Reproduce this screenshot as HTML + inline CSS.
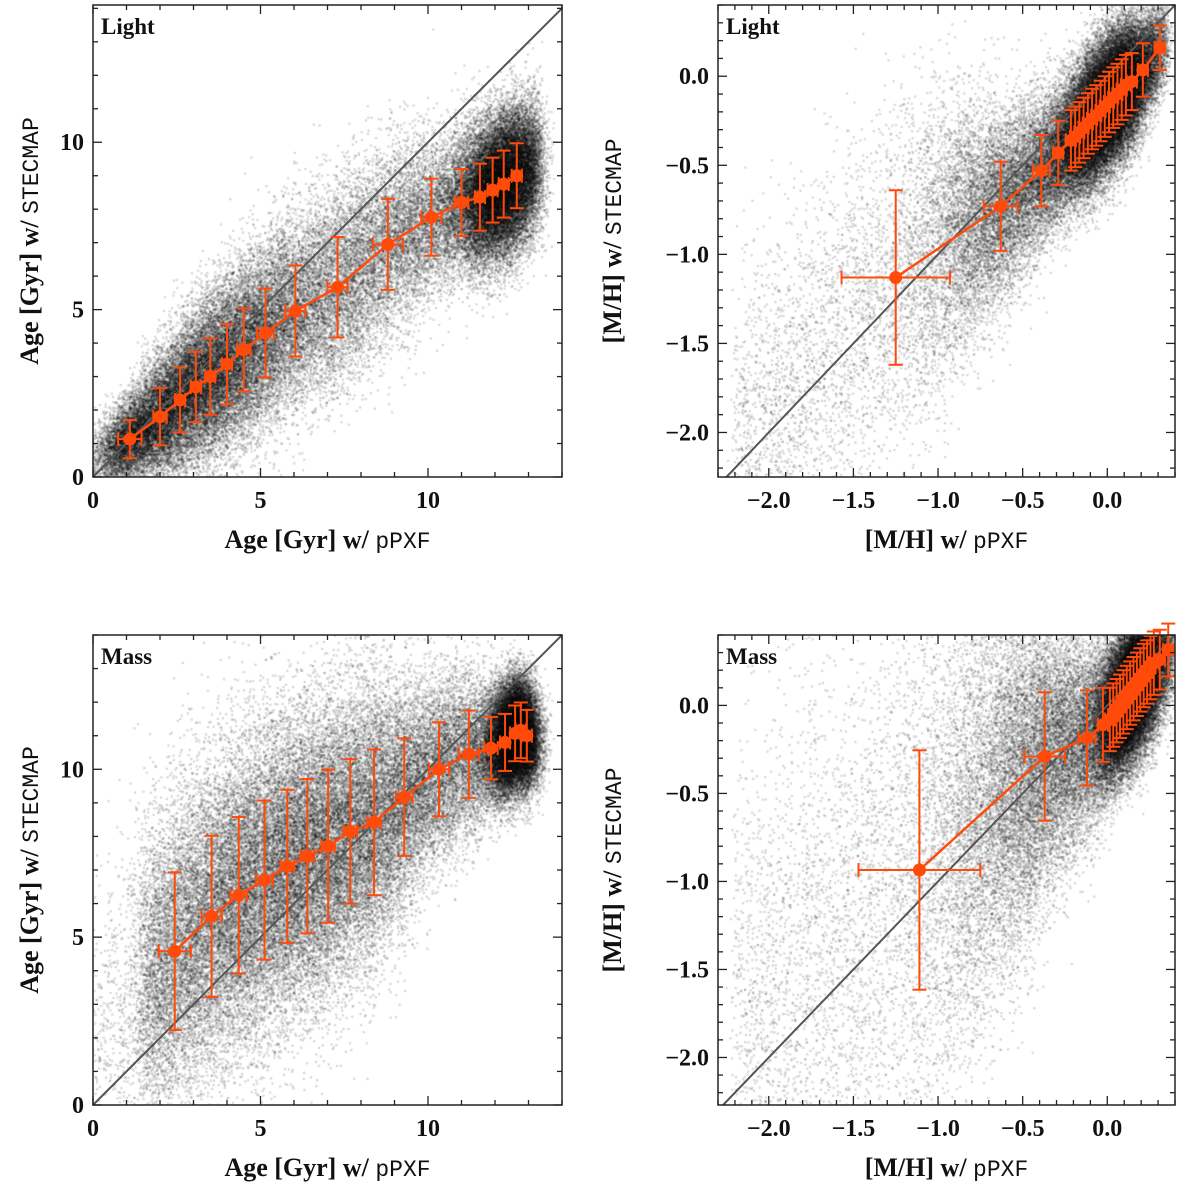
<!DOCTYPE html>
<html><head><meta charset="utf-8">
<style>
body{margin:0;background:#fff;}
#wrap{position:relative;width:1200px;height:1193px;overflow:hidden;}
canvas,svg{position:absolute;left:0;top:0;}
text{font-family:"Liberation Serif",serif;font-weight:bold;fill:#111;}
</style></head>
<body>
<div id="wrap">
<canvas id="cv" width="1200" height="1193"></canvas>
<svg id="sv" width="1200" height="1193" xmlns="http://www.w3.org/2000/svg"></svg>
</div>
<script>
// ---- Data: binned medians (x, y) and errors ----
const ageLightX = [1.1,2.0,2.6,3.07,3.5,4.0,4.5,5.15,6.04,7.3,8.8,10.1,11.0,11.55,11.93,12.26,12.65];
const ageLightY = [1.13,1.8,2.3,2.69,3.0,3.37,3.8,4.3,4.96,5.67,6.95,7.76,8.2,8.36,8.57,8.75,9.0];
const ageLightYErr = [0.57,0.85,0.97,1.05,1.14,1.2,1.24,1.33,1.36,1.5,1.36,1.15,1.0,1.0,0.97,1.0,0.97];
const ageLightXErr = [0.35,0.2,0.15,0.15,0.15,0.15,0.2,0.25,0.3,0.3,0.45,0.3,0.2,0.15,0.15,0.15,0.15];

const mhLightX = [-1.25,-0.63,-0.39,-0.29,-0.215,-0.19,-0.165,-0.14,-0.115,-0.09,-0.065,-0.04,-0.015,0.01,0.035,0.06,0.085,0.11,0.145,0.21,0.31];
const mhLightY = [-1.13,-0.73,-0.53,-0.43,-0.36,-0.34,-0.315,-0.29,-0.265,-0.24,-0.22,-0.195,-0.17,-0.145,-0.12,-0.1,-0.075,-0.05,-0.03,0.035,0.16];
const mhLightYErr = [0.49,0.25,0.2,0.18,0.17,0.17,0.17,0.17,0.17,0.17,0.17,0.17,0.17,0.17,0.17,0.17,0.17,0.17,0.16,0.15,0.125];
const mhLightXErr = [0.32,0.1,0.05,0.03,0.03,0.03,0.03,0.03,0.03,0.03,0.03,0.03,0.03,0.03,0.03,0.03,0.03,0.03,0.03,0.03,0.03];

const ageMassX = [2.44,3.54,4.35,5.12,5.8,6.4,7.02,7.68,8.39,9.29,10.33,11.22,11.88,12.3,12.6,12.77,12.95];
const ageMassY = [4.58,5.62,6.25,6.7,7.11,7.41,7.71,8.15,8.42,9.17,10.0,10.45,10.63,10.8,11.07,11.16,11.0];
const ageMassYErr = [2.35,2.4,2.33,2.37,2.28,2.3,2.28,2.15,2.17,1.75,1.4,1.3,0.93,0.85,0.83,0.83,0.77];
const ageMassXErr = [0.48,0.3,0.25,0.25,0.2,0.2,0.2,0.2,0.2,0.25,0.3,0.3,0.2,0.15,0.15,0.15,0.15];

const mhMassX = [-1.11,-0.37,-0.12,-0.026,0.015,0.035,0.055,0.075,0.095,0.115,0.135,0.155,0.175,0.195,0.215,0.235,0.255,0.275,0.31,0.36];
const mhMassY = [-0.935,-0.29,-0.185,-0.11,-0.08,-0.055,-0.03,-0.005,0.02,0.045,0.07,0.095,0.12,0.145,0.17,0.19,0.215,0.24,0.26,0.315];
const mhMassYErr = [0.68,0.365,0.27,0.21,0.18,0.18,0.18,0.18,0.18,0.18,0.18,0.18,0.18,0.18,0.18,0.18,0.18,0.18,0.17,0.15];
const mhMassXErr = [0.36,0.12,0.05,0.03,0.03,0.03,0.03,0.03,0.03,0.03,0.03,0.03,0.03,0.03,0.03,0.03,0.03,0.03,0.03,0.03];

const ageTicks = [0,5,10];
const mhXTicks = [-2.0,-1.5,-1.0,-0.5,0.0];
const mhYTicks = [-2.0,-1.5,-1.0,-0.5,0.0];

const panels = [
 {name:'light-age',label:'Light',box:[93,5,562,477],xr:[0,14],yr:[0,14.1],xt:ageTicks,yt:ageTicks,xm:1,ym:1,dec:0,
  X:ageLightX,Y:ageLightY,XE:ageLightXErr,YE:ageLightYErr,xl:'Age [Gyr] w/ ',yl:'Age [Gyr] w/ ',mono1:'pPXF',mono2:'STECMAP',type:'age'},
 {name:'light-mh',label:'Light',box:[718,5,1175,477],xr:[-2.3,0.4],yr:[-2.25,0.4],xt:mhXTicks,yt:mhYTicks,xm:0.1,ym:0.1,dec:1,
  X:mhLightX,Y:mhLightY,XE:mhLightXErr,YE:mhLightYErr,xl:'[M/H] w/ ',yl:'[M/H] w/ ',mono1:'pPXF',mono2:'STECMAP',type:'mhl'},
 {name:'mass-age',label:'Mass',box:[93,635,562,1105],xr:[0,14],yr:[0,14],xt:ageTicks,yt:ageTicks,xm:1,ym:1,dec:0,
  X:ageMassX,Y:ageMassY,XE:ageMassXErr,YE:ageMassYErr,xl:'Age [Gyr] w/ ',yl:'Age [Gyr] w/ ',mono1:'pPXF',mono2:'STECMAP',type:'agem'},
 {name:'mass-mh',label:'Mass',box:[718,635,1175,1105],xr:[-2.3,0.4],yr:[-2.27,0.4],xt:mhXTicks,yt:mhYTicks,xm:0.1,ym:0.1,dec:1,
  X:mhMassX,Y:mhMassY,XE:mhMassXErr,YE:mhMassYErr,xl:'[M/H] w/ ',yl:'[M/H] w/ ',mono1:'pPXF',mono2:'STECMAP',type:'mhm'}
];

const NS='http://www.w3.org/2000/svg';
const sv=document.getElementById('sv');
const ctx=document.getElementById('cv').getContext('2d');
function mk(tag,attrs,parent){const e=document.createElementNS(NS,tag);for(const k in attrs)e.setAttribute(k,attrs[k]);(parent||sv).appendChild(e);return e;}

// seeded PRNG for background cloud texture
let seed=12345;
function rnd(){seed|=0;seed=seed+0x6D2B79F5|0;let t=Math.imul(seed^seed>>>15,1|seed);t=t+Math.imul(t^t>>>7,61|t)^t;return((t^t>>>14)>>>0)/4294967296;}
function gauss(){let u=rnd()||1e-9,v=rnd();return Math.sqrt(-2*Math.log(u))*Math.cos(2*Math.PI*v);}
function interp(X,Y,x){
  if(x<=X[0]){const s=(Y[1]-Y[0])/(X[1]-X[0]);return Y[0]+(x-X[0])*s;}
  for(let i=1;i<X.length;i++){if(x<=X[i]){const t=(x-X[i-1])/(X[i]-X[i-1]);return Y[i-1]+t*(Y[i]-Y[i-1]);}}
  const n=X.length;return Y[n-1]+(x-X[n-1])*(Y[n-1]-Y[n-2])/(X[n-1]-X[n-2]||1);
}

panels.forEach(p=>{
  const [x0,y0,x1,y1]=p.box;
  const sx=v=>x0+(v-p.xr[0])/(p.xr[1]-p.xr[0])*(x1-x0);
  const sy=v=>y1-(v-p.yr[0])/(p.yr[1]-p.yr[0])*(y1-y0);
  const g=mk('g',{});
  
  

  // cloud
  ctx.save();ctx.beginPath();ctx.rect(x0,y0,x1-x0,y1-y0);ctx.clip();
  ctx.fillStyle='rgba(0,0,0,0.17)';
  const N=p.type.startsWith('age')?65000:55000;
  for(let i=0;i<N;i++){
    let x,r=rnd(),ys=1.3;
    if(p.type==='age'){x= r<0.45?0.5+rnd()*12.7: r<0.75?12.2+gauss()*0.6: 3+gauss()*1.6; if(x>13.3)x=13.3-rnd()*0.5;}
    else if(p.type==='agem'){x= r<0.4?1.5+rnd()*11.6: r<0.7?12.6+gauss()*0.35: 6+gauss()*2.6; if(x>13.2)x=13.2-rnd()*0.4; ys=1.2;}
    else if(p.type==='mhl'){x= r<0.68?0.0+gauss()*0.15: r<0.88?-0.55+gauss()*0.3:-2.2+rnd()*2.4; if(x>0.35)x=0.35-rnd()*0.1;}
    else {x= r<0.58?0.15+gauss()*0.1: r<0.86?-0.35+gauss()*0.35:-2.2+rnd()*2.5; if(x>0.38)x=0.38-rnd()*0.1;}
    let ye=interp(p.X,p.YE,Math.max(p.X[0],Math.min(p.X[p.X.length-1],x)));
    let ym=interp(p.X,p.Y,x);
    if(p.type==='mhl'&&x<-1.25) ym=x+0.1;
    if(p.type==='mhm'&&x<-1.11) ym=-0.93+(x+1.11)*0.9;
    if(p.type==='mhm'&&x<-0.4) ye=ye*1.1;
    let y=ym+gauss()*ye*ys*0.8;
    x+=gauss()*(p.type.startsWith('age')?0.2:0.02);
    ctx.fillRect(sx(x)-1,sy(y)-1,2.2,2.2);
  }
  ctx.restore();

  // diagonal
  const lo=Math.max(p.xr[0],p.yr[0]),hi=Math.min(p.xr[1],p.yr[1]);
  const d=mk('line',{x1:sx(lo),y1:sy(lo),x2:sx(hi),y2:sy(hi),stroke:'#555','stroke-width':2},g);
  
  

  // error bars
  const c='#ff4a0a';
  p.X.forEach((xv,i)=>{
    const yv=p.Y[i],xe=p.XE[i],ye=p.YE[i];
    const eb=mk('g',{stroke:c,'stroke-width':2,fill:'none'},g);
    
    
    mk('line',{x1:sx(xv),x2:sx(xv),y1:sy(yv-ye),y2:sy(yv+ye)},eb);
    mk('line',{x1:sx(xv)-7,x2:sx(xv)+7,y1:sy(yv-ye),y2:sy(yv-ye)},eb);
    mk('line',{x1:sx(xv)-7,x2:sx(xv)+7,y1:sy(yv+ye),y2:sy(yv+ye)},eb);
    mk('line',{x1:sx(xv-xe),x2:sx(xv+xe),y1:sy(yv),y2:sy(yv)},eb);
    mk('line',{x1:sx(xv-xe),x2:sx(xv-xe),y1:sy(yv)-7,y2:sy(yv)+7},eb);
    mk('line',{x1:sx(xv+xe),x2:sx(xv+xe),y1:sy(yv)-7,y2:sy(yv)+7},eb);
  });
  const pl=mk('polyline',{points:p.X.map((xv,i)=>sx(xv)+','+sy(p.Y[i])).join(' '),fill:'none',stroke:c,'stroke-width':2.5},g);
  
  
  p.X.forEach((xv,i)=>{
    const m=mk('circle',{cx:sx(xv),cy:sy(p.Y[i]),r:6.5,fill:c},g);
    
    
  });

  // frame
  const fr=mk('rect',{x:x0,y:y0,width:x1-x0,height:y1-y0,fill:'none',stroke:'#222','stroke-width':1.5},g);
  
  

  // ticks
  const tk=mk('g',{stroke:'#222','stroke-width':1.3},g);
  
  
  for(let v=Math.ceil(p.xr[0]/p.xm-1e-6)*p.xm;v<=p.xr[1]+1e-9;v+=p.xm){
    const X=sx(v);const maj=p.xt.some(t=>Math.abs(t-v)<1e-6);const L=maj?9:5;
    mk('line',{x1:X,x2:X,y1:y1,y2:y1-L},tk);mk('line',{x1:X,x2:X,y1:y0,y2:y0+L},tk);
  }
  for(let v=Math.ceil(p.yr[0]/p.ym-1e-6)*p.ym;v<=p.yr[1]+1e-9;v+=p.ym){
    const Y=sy(v);const maj=p.yt.some(t=>Math.abs(t-v)<1e-6);const L=maj?9:5;
    mk('line',{x1:x0,x2:x0+L,y1:Y,y2:Y},tk);mk('line',{x1:x1,x2:x1-L,y1:Y,y2:Y},tk);
  }
  const fmt=v=>(v<0?'\u2212':'')+Math.abs(v).toFixed(p.dec);
  p.xt.forEach(v=>{const t=mk('text',{x:sx(v),y:y1+31,'text-anchor':'middle','font-size':24},g);t.textContent=fmt(v);
    });
  p.yt.forEach(v=>{const t=mk('text',{x:x0-9,y:sy(v)+8,'text-anchor':'end','font-size':24},g);t.textContent=fmt(v);
    });

  // titles
  const monoStyle='font-family:"Liberation Mono","DejaVu Sans Mono",monospace;font-weight:normal;';
  const xt=mk('text',{x:(x0+x1)/2,y:y1+71,'text-anchor':'middle','font-size':26},g);
  
  xt.appendChild(document.createTextNode(p.xl));
  const s1=mk('tspan',{style:monoStyle,'font-family':'Liberation Mono, DejaVu Sans Mono, monospace','font-size':23},xt);s1.textContent=p.mono1;
  const yc=(y0+y1)/2, yx=p.type.startsWith('age')?38:(x0-97);
  const yt=mk('text',{x:yx,y:yc,'text-anchor':'middle','font-size':26,transform:`rotate(-90 ${yx} ${yc})`},g);
  
  yt.appendChild(document.createTextNode(p.yl));
  const s2=mk('tspan',{style:monoStyle,'font-family':'Liberation Mono, DejaVu Sans Mono, monospace','font-size':23},yt);s2.textContent=p.mono2;
  const lb=mk('text',{x:x0+8,y:y0+29,'font-size':23},g);lb.textContent=p.label;
  
});
</script>
</body></html>
